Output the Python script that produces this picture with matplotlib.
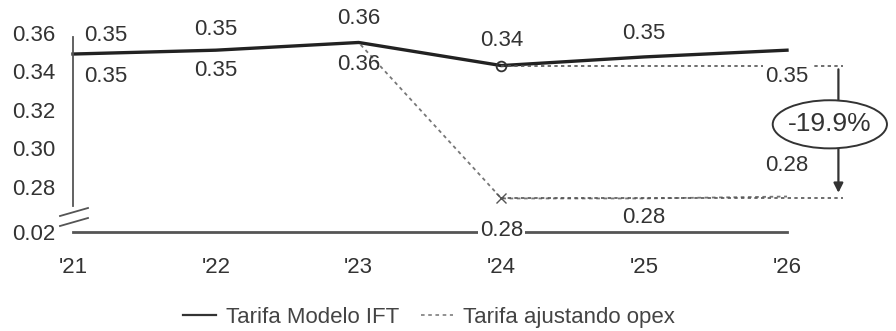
import numpy as np
import matplotlib
import matplotlib.pyplot as plt
from matplotlib.patches import Ellipse

matplotlib.rcParams["font.family"] = ["Liberation Sans", "DejaVu Sans"]

years = ["'21", "'22", "'23", "'24", "'25", "'26"]
tarifa_ift = [0.349, 0.351, 0.355, 0.343, 0.3475, 0.351]
tarifa_opex = [0.349, 0.351, 0.355, 0.274, 0.274, 0.275]
labels_ift = ["0.35", "0.35", "0.36", "0.34", "0.35", "0.35"]
labels_opex = ["0.35", "0.35", "0.36", "0.28", "0.28", "0.28"]
yticks_top = [0.28, 0.30, 0.32, 0.34, 0.36]
ytick_bottom = 0.02
change_label = "-19.9%"

W, H = 896, 331
fig = plt.figure(figsize=(W / 100, H / 100), dpi=100)

left, right = 73 / W, 787 / W
ax = fig.add_axes([left, (H - 210) / H, right - left, 181 / H])
axb = fig.add_axes([left, (H - 232) / H, right - left, 10 / H], sharex=ax)
ax.set_zorder(3)
ax.patch.set_visible(False)

x = np.arange(len(years))
txt = "#333333"
fs = 16

# main lines
ax.plot(x, tarifa_opex, color="#777777", linestyle=(0, (2, 2)), linewidth=1.3, clip_on=False)
ax.plot(x, tarifa_ift, color="#222222", linewidth=2.4, clip_on=False)
ax.plot(x[3], tarifa_ift[3], "o", ms=7, mfc="none", mec="#333333", mew=1.3, clip_on=False)
ax.plot(x[3], tarifa_opex[3], "x", ms=7, mec="#555555", clip_on=False)

ax.set_xlim(x[0], x[-1])
ax.set_ylim(0.268, 0.362)
ax.set_yticks(yticks_top)
ax.set_yticklabels([f"{v:.2f}" for v in yticks_top])
ax.tick_params(axis="y", length=0, pad=13, labelsize=fs, labelcolor=txt)
ax.tick_params(axis="x", bottom=False, labelbottom=False)
for s in ["top", "right", "bottom"]:
    ax.spines[s].set_visible(False)
ax.spines["left"].set_bounds(0.270, 0.358)
ax.spines["left"].set_color("#555555")
ax.spines["left"].set_linewidth(1.3)

# reference lines and change arrow
x_end = x[-1] + 0.39
ax.plot([x[3], x_end], [tarifa_ift[3], tarifa_ift[3]], color="#555555",
        linestyle=(0, (2, 2)), linewidth=1.2, clip_on=False)
ax.plot([x[3], x_end], [tarifa_opex[3], tarifa_opex[3]], color="#555555",
        linestyle=(0, (2, 2)), linewidth=1.2, clip_on=False)
xa = x[-1] + 0.36
ax.annotate("", xy=(xa, tarifa_opex[3] + 0.0015), xytext=(xa, tarifa_ift[3] - 0.0005),
            arrowprops=dict(arrowstyle="-|>", color="#333333", lw=1.6, mutation_scale=14),
            annotation_clip=False)
xc = x[-1] + 0.30
yc = (tarifa_ift[3] + tarifa_opex[3]) / 2 + 0.004
ax.add_patch(Ellipse((xc, yc), 0.80, 0.025, fc="white", ec="#333333", lw=1.4,
                     clip_on=False, zorder=5))
ax.text(xc, yc, change_label, ha="center", va="center", fontsize=19, color=txt, zorder=6)

# data labels
ift_off = [(33, 19), (0, 21), (0, 24), (0, 25), (0, 23), (0, -26)]
opex_off = [(33, -22), (0, -20), (0, -22), (0, -32), (0, -19), (0, 31)]
for i in x:
    ax.annotate(labels_ift[i], (x[i], tarifa_ift[i]), textcoords="offset pixels",
                xytext=ift_off[i], ha="center", va="center", fontsize=fs, color=txt,
                annotation_clip=False, zorder=5,
                bbox=dict(boxstyle="square,pad=0.1", fc="white", ec="none") if i == 5 else None)
    ax.annotate(labels_opex[i], (x[i], tarifa_opex[i]), textcoords="offset pixels",
                xytext=opex_off[i], ha="center", va="center", fontsize=fs, color=txt,
                annotation_clip=False, zorder=5,
                bbox=dict(boxstyle="square,pad=0.1", fc="white", ec="none") if i == 3 else None)

# break marks
for dy in (0.0, 10.0):
    y0 = (H - 216 - dy) / H
    y1 = (H - 208 - dy) / H
    fig.add_artist(plt.Line2D([60 / W, 88 / W], [y0, y1], color="#555555", lw=1.3))

# bottom axis
axb.set_ylim(ytick_bottom, ytick_bottom + 0.01)
axb.set_yticks([ytick_bottom])
axb.set_yticklabels([f"{ytick_bottom:.2f}"])
axb.set_xticks(x)
axb.set_xticklabels(years)
axb.tick_params(axis="y", length=0, pad=13, labelsize=fs, labelcolor=txt)
axb.tick_params(axis="x", length=0, pad=18, labelsize=fs, labelcolor=txt)
for s in ["top", "right", "left"]:
    axb.spines[s].set_visible(False)
axb.spines["bottom"].set_color("#555555")
axb.spines["bottom"].set_linewidth(2)
axb.patch.set_visible(False)

# legend
h1 = plt.Line2D([], [], color="#333333", linewidth=1.6)
h2 = plt.Line2D([], [], color="#888888", linestyle=(0, (2, 2)), linewidth=1.3)
fig.legend([h1, h2], ["Tarifa Modelo IFT", "Tarifa ajustando opex"], loc="center",
           bbox_to_anchor=(0.479, 0.04), ncol=2, frameon=False, fontsize=fs,
           handlelength=1.45, handletextpad=0.45, columnspacing=1.0, labelcolor="#444444")

fig.savefig("out.png", dpi=100)
